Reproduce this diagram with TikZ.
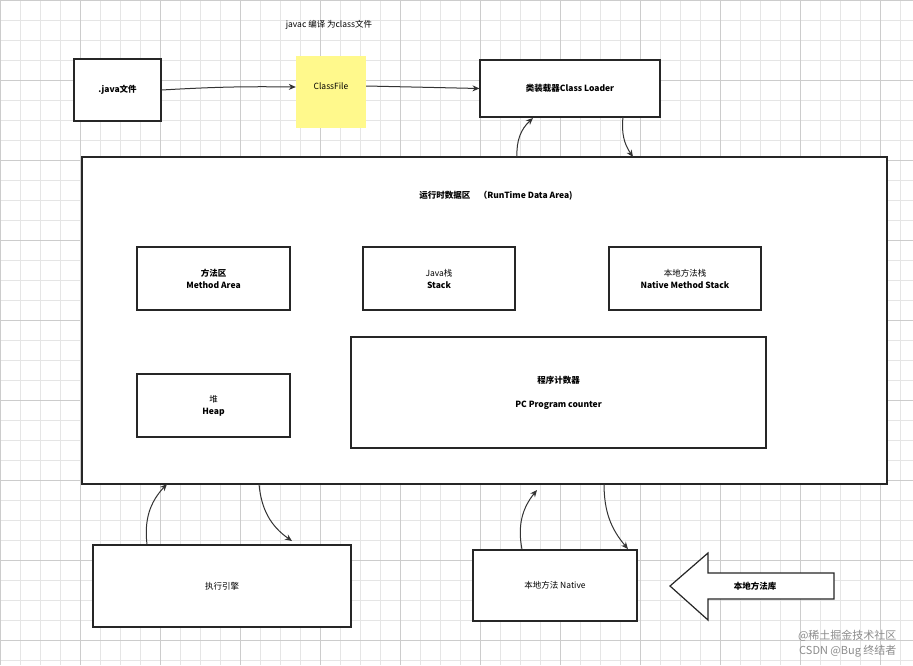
\documentclass[tikz,border=0pt]{standalone}
\usepackage{fontspec}
\setmainfont{Noto Sans CJK SC}
\usetikzlibrary{arrows.meta}
\tikzset{
 box/.style={draw=black!85,line width=1.1pt,fill=white,align=center,font=\fontsize{8.5}{12}\selectfont},
 arr/.style={-{Stealth[length=7pt,width=6pt]},line width=1pt,black!80},
 lbl/.style={font=\fontsize{8.5}{12}\selectfont}
}
\begin{document}
\begin{tikzpicture}[x=1pt,y=-1pt]
\useasboundingbox (0,0) rectangle (913,665);
\fill[white] (0,0) rectangle (913,665);
\foreach \i in {0,20,...,900} \draw[black!10,line width=0.4pt] (\i,0) -- (\i,665);
\foreach \j in {0,20,...,660} \draw[black!10,line width=0.4pt] (0,\j) -- (913,\j);
\foreach \i in {0,80,...,900} \draw[black!20,line width=0.6pt] (\i,0) -- (\i,665);
\foreach \j in {0,80,...,660} \draw[black!20,line width=0.6pt] (0,\j) -- (913,\j);
% top row
\node[box,minimum width=87,minimum height=62] (java) at (117.5,90) {\textbf{.java文件}};
\node[fill=yellow!45,minimum width=70,minimum height=72,lbl] (cf) at (331,92) {};
\node[lbl] at (331,86) {ClassFile};
\node[lbl] (jl) at (329,25) {javac 编译 为class文件};
\node[box,minimum width=180,minimum height=57] (cl) at (570,88.5) {\textbf{类装载器Class Loader}};
\draw[arr] (java.east) to[bend left=2] (cf.west |- 0,87);
\draw[arr] (cf.east |- 0,86) -- (cl.west);
% runtime area
\node[box,minimum width=805,minimum height=327] (rt) at (484.5,320.5) {};
\node[lbl] at (496,196) {\textbf{运行时数据区\quad （RunTime Data Area)}};
\node[box,minimum width=153,minimum height=63] (ma) at (213.5,278.5) {\textbf{方法区}\\\textbf{Method Area}};
\node[box,minimum width=152,minimum height=63] (st) at (439,278.5) {Java栈\\\textbf{Stack}};
\node[box,minimum width=152,minimum height=63] (ns) at (685,278.5) {本地方法栈\\\textbf{Native Method Stack}};
\node[box,minimum width=153,minimum height=63] (hp) at (213.5,405.5) {堆\\\textbf{Heap}};
\node[box,minimum width=415,minimum height=111] (pc) at (558.5,392.5) {\textbf{程序计数器}\\[12pt]\textbf{PC Program counter}};
% loader <-> area
\coordinate (a1) at (517,157); \coordinate (a2) at (533,118);
\coordinate (a3) at (623,117); \coordinate (a4) at (633,157);
\draw[arr] (a1) to[bend left=25] (a2);
\draw[arr] (a3) to[bend right=20] (a4);
% bottom
\node[box,minimum width=258,minimum height=82] (ee) at (222,586) {执行引擎};
\node[box,minimum width=164,minimum height=71] (nm) at (555,585.5) {本地方法 Native};
\draw[arr] (ee.north -| 147,0) to[bend left=25] (167,484);
\draw[arr] (259,484) to[bend right=25] (292,541);
\draw[arr] (nm.north -| 522,0) to[bend left=25] (537,490);
\draw[arr] (604,484) to[bend right=20] (628,549);
% hollow arrow
\draw[line width=1.2pt,black!85,fill=white] (670,586) -- (708,553) -- (708,573) -- (834,573) -- (834,599) -- (708,599) -- (708,620) -- cycle;
\node[lbl] (lib) at (755,586) {\textbf{本地方法库}};
% watermark
\node[black!45,font=\fontsize{11}{13}\selectfont,anchor=east] at (900,636) {@稀土掘金技术社区};
\node[black!45,font=\fontsize{11}{13}\selectfont,anchor=east] at (900,651) {CSDN @Bug 终结者};
\end{tikzpicture}
\end{document}
